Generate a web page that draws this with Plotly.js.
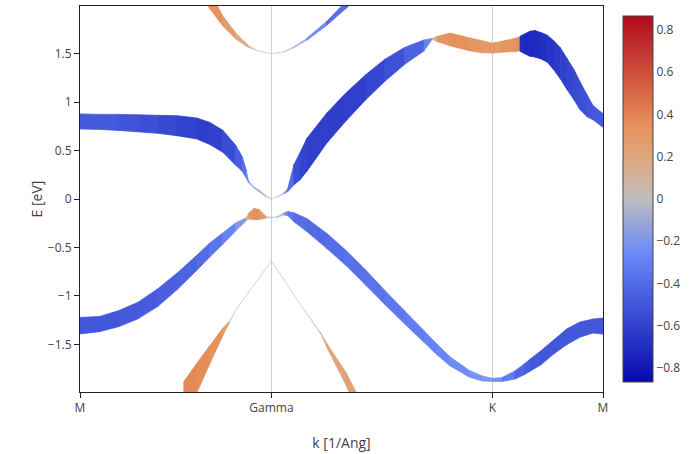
<!DOCTYPE html>
<html>
<head>
<meta charset="utf-8">
<script src="https://cdn.plot.ly/plotly-3.0.1.min.js"></script>
<style>html,body{margin:0;padding:0;background:#fff;}#chart{width:692px;height:454px;}</style>
</head>
<body>
<div id="chart"></div>
<script>
// High-symmetry path (1/Ang)
const tickK = [0, 1.475, 3.178, 4.029];
const tickLabels = ['M', 'Gamma', 'K', 'M'];

// Conduction band: k, energy (eV), fat-band width (eV), spin
const kC = [0,0.15,0.3,0.447,0.6,0.747,0.9,1.0,1.1,1.2,1.25,1.28,1.3,1.34,1.38,1.43,1.475,1.517,1.571,1.6,1.648,1.694,1.748,1.902,2.048,2.203,2.349,2.5,2.65,2.711,2.75,2.85,2.997,3.097,3.178,3.251,3.351,3.39,3.39,3.42,3.466,3.505,3.551,3.6,3.651,3.7,3.751,3.805,3.851,3.905,3.952,4.029];
const eC = [0.80,0.795,0.79,0.78,0.77,0.756,0.727,0.676,0.596,0.45,0.36,0.26,0.176,0.12,0.083,0.03,0.0,0.02,0.06,0.09,0.25,0.335,0.456,0.733,0.948,1.155,1.328,1.475,1.583,1.65,1.65,1.645,1.596,1.57,1.556,1.57,1.589,1.60,1.60,1.60,1.60,1.60,1.58,1.55,1.48,1.40,1.29,1.18,1.067,0.964,0.89,0.81];
const wC = [0.155,0.155,0.165,0.175,0.186,0.206,0.216,0.227,0.227,0.206,0.15,0.082,0.021,0.015,0.021,0.015,0.0,0.005,0.01,0.031,0.206,0.278,0.34,0.309,0.289,0.258,0.227,0.175,0.113,0.01,0.052,0.131,0.134,0.124,0.103,0.113,0.134,0.144,0.155,0.196,0.258,0.273,0.271,0.278,0.30,0.32,0.32,0.309,0.289,0.227,0.147,0.14];
const sC = [-0.48,-0.48,-0.5,-0.52,-0.55,-0.58,-0.62,-0.62,-0.6,-0.5,-0.42,-0.35,-0.2,-0.15,-0.15,-0.1,0,-0.05,-0.1,-0.3,-0.5,-0.58,-0.6,-0.62,-0.62,-0.6,-0.55,-0.5,-0.38,-0.2,0.3,0.35,0.33,0.3,0.27,0.3,0.34,0.35,-0.7,-0.72,-0.72,-0.72,-0.7,-0.68,-0.65,-0.62,-0.6,-0.57,-0.55,-0.52,-0.5,-0.48];

// Valence band
const kV = [0,0.15,0.3,0.447,0.6,0.747,0.9,1.0,1.1,1.2,1.28,1.3,1.34,1.38,1.43,1.475,1.517,1.571,1.6,1.648,1.748,1.902,2.048,2.203,2.349,2.5,2.65,2.75,2.85,2.997,3.097,3.178,3.251,3.351,3.42,3.466,3.551,3.651,3.751,3.851,3.952,4.029];
const eV = [-1.306,-1.29,-1.233,-1.15,-1.016,-0.85,-0.658,-0.525,-0.408,-0.287,-0.21,-0.175,-0.155,-0.16,-0.187,-0.19,-0.187,-0.155,-0.15,-0.189,-0.269,-0.433,-0.606,-0.813,-1.016,-1.22,-1.418,-1.551,-1.674,-1.8,-1.85,-1.865,-1.862,-1.814,-1.758,-1.715,-1.637,-1.524,-1.42,-1.347,-1.31,-1.31];
const wV = [0.17,0.155,0.165,0.171,0.182,0.171,0.155,0.144,0.116,0.082,0.031,0.062,0.113,0.103,0.021,0.0,0.01,0.021,0.041,0.093,0.134,0.155,0.155,0.155,0.144,0.134,0.12,0.11,0.093,0.069,0.052,0.031,0.041,0.082,0.11,0.124,0.144,0.144,0.162,0.155,0.144,0.165];
const sV = [-0.5,-0.5,-0.5,-0.48,-0.47,-0.45,-0.42,-0.38,-0.32,-0.25,-0.1,0.3,0.35,0.35,0.2,0,-0.1,-0.15,-0.3,-0.38,-0.4,-0.4,-0.38,-0.37,-0.35,-0.33,-0.3,-0.28,-0.26,-0.23,-0.2,-0.18,-0.25,-0.4,-0.45,-0.48,-0.5,-0.5,-0.5,-0.5,-0.5,-0.5];

// Lower band (maximum at Gamma)
const kL = [0.8,0.9,1.0,1.1,1.15,1.2,1.3,1.38,1.43,1.475,1.517,1.571,1.648,1.748,1.85,1.902,2.048,2.203];
const eL = [-2.07,-1.845,-1.606,-1.37,-1.27,-1.147,-0.96,-0.816,-0.72,-0.643,-0.725,-0.833,-0.984,-1.183,-1.38,-1.51,-1.85,-2.29];
const wL = [0.371,0.304,0.186,0.078,0.015,0.004,0.004,0.004,0.004,0.004,0.004,0.004,0.004,0.004,0.015,0.041,0.128,0.206];
const sL = [0.38,0.37,0.35,0.3,0.15,0.02,0,0,0,0,0,0,0,0.02,0.1,0.18,0.22,0.25];

// Upper band (minimum at Gamma)
const kT = [0.9,1.0,1.1,1.2,1.3,1.38,1.43,1.475,1.517,1.571,1.648,1.748,1.902,2.048,2.203];
const eT = [2.29,2.05,1.836,1.68,1.57,1.525,1.51,1.5,1.503,1.516,1.565,1.648,1.813,2.0,2.22];
const wT = [0.19,0.175,0.103,0.062,0.021,0.006,0.004,0.0,0.004,0.006,0.012,0.021,0.041,0.072,0.093];
const sT = [0.38,0.36,0.32,0.22,0.1,0.03,0,0,0,-0.05,-0.12,-0.2,-0.32,-0.45,-0.5];

const spinMax = 0.866;
const scale = [[0,[5,10,172]],[0.35,[106,137,247]],[0.5,[190,190,190]],[0.6,[220,170,132]],[0.7,[230,145,90]],[1,[178,10,28]]];
const plotlyScale = scale.map(s => [s[0], 'rgb(' + s[1].join(',') + ')']);

function colorOf(v) {
  let t = (v + spinMax) / (2 * spinMax);
  t = Math.max(0, Math.min(1, t));
  for (let i = 0; i < scale.length - 1; i++) {
    const a = scale[i], b = scale[i + 1];
    if (t <= b[0]) {
      const f = (t - a[0]) / (b[0] - a[0]);
      const c = a[1].map((x, j) => Math.round(x + (b[1][j] - x) * f));
      return 'rgb(' + c.join(',') + ')';
    }
  }
  return 'rgb(178,10,28)';
}

const traces = [];
function addBand(k, e, w, s) {
  for (let i = 0; i < k.length - 1; i++) {
    if (k[i + 1] === k[i]) continue;
    const col = colorOf((s[i] + s[i + 1]) / 2);
    const thin = (w[i] + w[i + 1]) / 2 < 0.02;
    traces.push({
      type: 'scatter', mode: 'lines',
      x: [k[i], k[i + 1], k[i + 1], k[i], k[i]],
      y: [e[i] + w[i] / 2, e[i + 1] + w[i + 1] / 2, e[i + 1] - w[i + 1] / 2, e[i] - w[i] / 2, e[i] + w[i] / 2],
      fill: 'toself', fillcolor: col,
      line: { color: col, width: thin ? 0.5 : 0.8 },
      opacity: thin ? 0.8 : 1,
      hoverinfo: 'skip', showlegend: false
    });
  }
}
addBand(kL, eL, wL, sL);
addBand(kT, eT, wT, sT);
addBand(kV, eV, wV, sV);
addBand(kC, eC, wC, sC);

// colorbar carrier (invisible markers on the band centres)
traces.push({
  type: 'scatter', mode: 'markers',
  x: kC.concat(kV), y: eC.concat(eV),
  marker: {
    color: sC.concat(sV), cmin: -spinMax, cmax: spinMax,
    colorscale: plotlyScale, showscale: true, opacity: 0, size: 1,
    colorbar: { outlinecolor: '#444', outlinewidth: 1, tickfont: { family: 'Open Sans', size: 12, color: '#444' } }
  },
  hoverinfo: 'skip', showlegend: false
});

const layout = {
  width: 692, height: 454,
  margin: { l: 80, r: 89, t: 6, b: 62, autoexpand: false },
  paper_bgcolor: 'white', plot_bgcolor: 'white',
  font: { family: 'Open Sans', size: 12, color: '#444' },
  showlegend: false,
  xaxis: {
    range: [0, 4.029], tickmode: 'array', tickvals: tickK, ticktext: tickLabels,
    showgrid: true, gridcolor: '#d0d0d0', gridwidth: 1, zeroline: false,
    showline: true, linecolor: '#222', linewidth: 1, mirror: true,
    ticks: 'outside', ticklen: 5, tickcolor: '#222',
    title: { text: 'k [1/Ang]', font: { size: 14, color: '#444' }, standoff: 22 }
  },
  yaxis: {
    range: [-1.99, 1.99], dtick: 0.5, tick0: 0,
    showgrid: false, zeroline: false,
    showline: true, linecolor: '#222', linewidth: 1, mirror: true,
    ticks: 'outside', ticklen: 5, tickcolor: '#222',
    title: { text: 'E [eV]', font: { size: 14, color: '#444' } }
  }
};

Plotly.newPlot('chart', traces, layout, { displayModeBar: false, staticPlot: true });
</script>
</body>
</html>
